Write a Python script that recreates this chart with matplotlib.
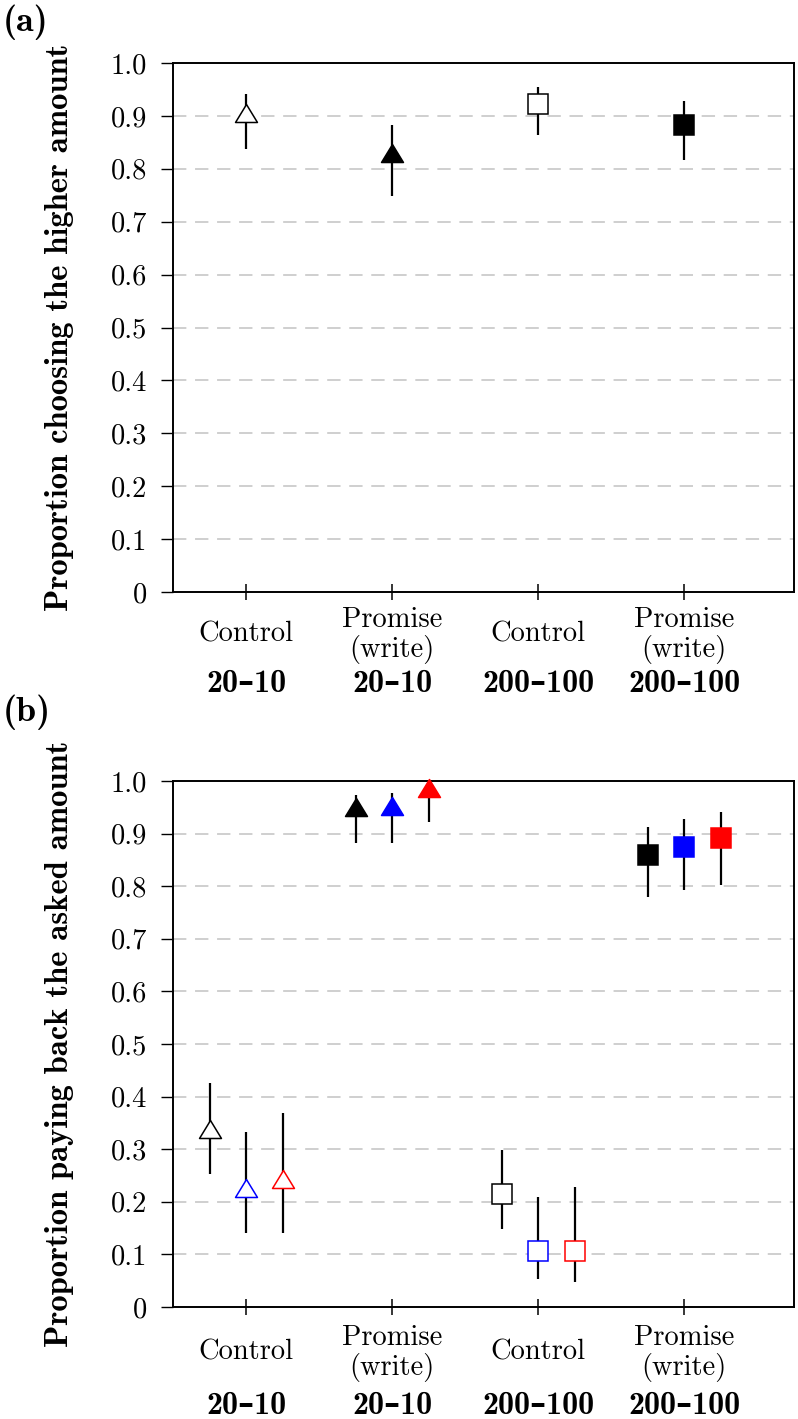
import matplotlib
matplotlib.use("Agg")
import matplotlib.pyplot as plt
from matplotlib.path import Path
from matplotlib.transforms import offset_copy

plt.rcParams['font.family'] = ['cmr10', 'DejaVu Serif']
plt.rcParams['axes.unicode_minus'] = False
plt.rcParams['axes.formatter.use_mathtext'] = True
BOLD = ['cmb10', 'DejaVu Serif']

# --- data ---
conditions = ['Control', 'Promise\n(write)', 'Control', 'Promise\n(write)']
stakes = ['20–10', '20–10', '200–100', '200–100']
markers = ['tri', 'tri', 's', 's']
filled = [False, True, False, True]

# panel (a): proportion choosing the higher amount
a_mean = [0.906, 0.829, 0.922, 0.883]
a_lo = [0.837, 0.749, 0.863, 0.817]
a_hi = [0.942, 0.883, 0.955, 0.929]

# panel (b): proportion paying back the asked amount, three series per condition
b_colors = ['black', '#0000ff', '#ff0000']
b_mean = [[0.338, 0.950, 0.215, 0.859],
          [0.227, 0.952, 0.107, 0.875],
          [0.244, 0.986, 0.107, 0.891]]
b_lo = [[0.252, 0.882, 0.148, 0.780],
        [0.140, 0.882, 0.053, 0.792],
        [0.141, 0.922, 0.048, 0.802]]
b_hi = [[0.426, 0.973, 0.298, 0.912],
        [0.332, 0.977, 0.210, 0.928],
        [0.369, 0.990, 0.229, 0.942]]
b_offsets = [-0.25, 0.0, 0.25]

yticks = [0, 0.1, 0.2, 0.3, 0.4, 0.5, 0.6, 0.7, 0.8, 0.9, 1.0]
ytick_labels = ['0', '0.1', '0.2', '0.3', '0.4', '0.5', '0.6', '0.7', '0.8', '0.9', '1.0']
xpos = [1, 2, 3, 4]

# triangle a bit flatter than matplotlib's '^'
TRI = Path([(0, 0.82), (-1, -0.82), (1, -0.82), (0, 0.82)],
           [Path.MOVETO, Path.LINETO, Path.LINETO, Path.CLOSEPOLY])


def draw_point(ax, x, m, lo, hi, kind, is_filled, color):
    ax.errorbar([x], [m], yerr=[[m - lo], [hi - m]], fmt='none', ecolor='black',
                elinewidth=1.6, capsize=0, zorder=3, clip_on=False)
    mk = TRI if kind == 'tri' else 's'
    ms = 15.8 if kind == 'tri' else 13.7
    ax.plot([x], [m], linestyle='none', marker=mk, markersize=ms,
            markerfacecolor=color if is_filled else 'white',
            markeredgecolor=color, markeredgewidth=1.1, zorder=4, clip_on=False)


def style_axes(ax, ylabel, offs_single, offs_double, offs_bold):
    ax.set_xlim(0.5, 4.753)
    ax.set_ylim(0, 1)
    ax.set_yticks(yticks)
    ax.set_yticklabels(ytick_labels, fontsize=20.5)
    ax.set_xticks(xpos)
    ax.set_xticklabels([])
    for sp in ax.spines.values():
        sp.set_linewidth(1.4)
        sp.set_color('black')
    ax.tick_params(axis='y', direction='out', length=8.5, width=1.0, pad=10,
                   colors='black')
    ax.tick_params(axis='x', direction='inout', length=11, width=1.1)
    ax.set_axisbelow(True)
    ax.yaxis.grid(True, color='#cccccc', linewidth=1.3, linestyle=(0, (7.4, 4.8)))
    ax.set_ylabel(ylabel, fontsize=23.5, family=BOLD, fontweight='bold')
    ax.yaxis.set_label_coords(-0.16, 0.5)

    base = ax.get_xaxis_transform()
    for x, cond, st in zip(xpos, conditions, stakes):
        lines = cond.split('\n')
        offs = offs_single if len(lines) == 1 else offs_double
        for line, dy in zip(lines, offs):
            tr = offset_copy(base, fig=fig, x=0, y=-dy, units='dots')
            ax.text(x, 0, line, transform=tr, ha='center', va='baseline', fontsize=20.5)
        tr = offset_copy(base, fig=fig, x=0, y=-offs_bold, units='dots')
        ax.text(x, 0, st, transform=tr, ha='center', va='baseline', fontsize=23,
                family=BOLD, fontweight='bold')


fig = plt.figure(figsize=(7.98, 14.19), dpi=100)
W, H = 798, 1419
ax_a = fig.add_axes([173 / W, 1 - 592 / H, (794 - 173) / W, (592 - 63) / H])
ax_b = fig.add_axes([173 / W, 1 - 1307 / H, (794 - 173) / W, (1307 - 781) / H])

for i, x in enumerate(xpos):
    draw_point(ax_a, x, a_mean[i], a_lo[i], a_hi[i], markers[i], filled[i], 'black')

for s, col in enumerate(b_colors):
    for i, x in enumerate(xpos):
        draw_point(ax_b, x + b_offsets[s], b_mean[s][i], b_lo[s][i], b_hi[s][i],
                   markers[i], filled[i], col)

style_axes(ax_a, 'Proportion choosing the higher amount', [50], [35, 65], 100)
style_axes(ax_b, 'Proportion paying back the asked amount', [53], [38, 68], 107)

fig.text(3 / W, 1 - 5 / H, '(a)', ha='left', va='top', fontsize=26,
         family=BOLD, fontweight='bold')
fig.text(3 / W, 1 - 695 / H, '(b)', ha='left', va='top', fontsize=26,
         family=BOLD, fontweight='bold')

fig.savefig('out.png', dpi=100)
